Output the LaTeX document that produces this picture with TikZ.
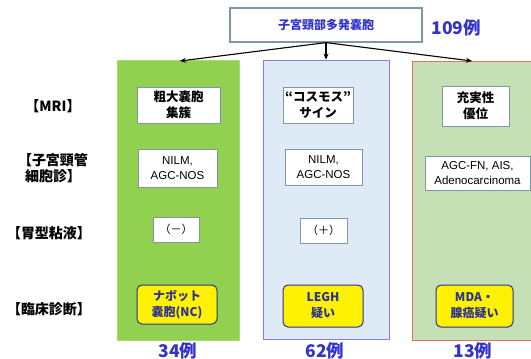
\documentclass[tikz,border=0pt]{standalone}
\usepackage{fontspec}
\newfontfamily\jp{Noto Sans CJK JP}
\newfontfamily\lat{Liberation Sans}
\usetikzlibrary{arrows.meta}
\definecolor{colgreen}{HTML}{92D050}
\definecolor{colgreenb}{HTML}{A8DC70}
\definecolor{colblue}{HTML}{DEEAF6}
\definecolor{colblueb}{HTML}{8080E8}
\definecolor{colpale}{HTML}{C5E0B4}
\definecolor{colred}{HTML}{E07060}
\definecolor{txtblue}{HTML}{3333CC}
\definecolor{navy}{HTML}{2E3192}
\definecolor{boxedge}{HTML}{7F98A8}
\tikzset{
  column/.style={draw, line width=0.8pt, inner sep=0pt},
  wbox/.style={draw=boxedge, fill=white, line width=0.8pt, align=center, font=\jp\bfseries\fontsize{12.5}{16}\selectfont, inner sep=0pt},
  lbox/.style={wbox, font=\lat\fontsize{11.5}{15}\selectfont},
  ybox/.style={draw=navy, fill=yellow, line width=1pt, rounded corners=5pt, align=center, text=navy, font=\jp\bfseries\fontsize{12}{16}\selectfont, inner sep=0pt},
  rowlabel/.style={align=center, font=\jp\bfseries\fontsize{14}{16}\selectfont},
  count/.style={text=txtblue, font=\jp\bfseries\fontsize{17.5}{20}\selectfont},
  arr/.style={-{Stealth[length=6pt,width=5pt]}, line width=1.1pt}
}
\begin{document}
\begin{tikzpicture}[x=1pt,y=-1pt]
\useasboundingbox (0,0) rectangle (531,359);
% columns
\node[column, fill=colgreen, draw=colgreenb, minimum width=122pt, minimum height=280pt] (c1) at (178,200) {};
\node[column, fill=colblue, draw=colblueb, minimum width=126pt, minimum height=279pt] (c2) at (326,199.5) {};
\node[column, fill=colpale, draw=colred, minimum width=122pt, minimum height=279pt] (c3) at (473,200.5) {};
% top box
\node[draw=boxedge, fill=white, line width=1.2pt, minimum width=192pt, minimum height=34pt, text=txtblue, font=\jp\bfseries\fontsize{12}{14}\selectfont] (top) at (326,25) {子宮頸部多発嚢胞};
\node[count, anchor=west] (n0) at (428,28) {109例};
% arrows
\draw[arr] (top.south) -- (180,61);
\draw[arr] (top.south) -- (c2.north);
\draw[arr] (top.south) -- (472,61);
% row labels
\node[rowlabel] (l1) at (53,106) {【MRI】};
\node[rowlabel] (l2) at (53,168) {【子宮頸管\\細胞診】};
\node[rowlabel] (l3) at (49,233) {【胃型粘液】};
\node[rowlabel] (l4) at (49,309) {【臨床診断】};
% MRI row
\node[wbox, minimum width=83pt, minimum height=36pt] (a1) at (178.5,105) {粗大嚢胞\\集簇};
\node[wbox, minimum width=70pt, minimum height=36pt] (a2) at (318,105) {“コスモス”\\サイン};
\node[wbox, minimum width=67pt, minimum height=40pt] (a3) at (475.5,106) {充実性\\優位};
% cytology row
\node[lbox, minimum width=79pt, minimum height=38pt] (b1) at (177.5,168) {NILM,\\AGC-NOS};
\node[lbox, minimum width=77pt, minimum height=36pt] (b2) at (323.5,167) {NILM,\\AGC-NOS};
\node[lbox, minimum width=105pt, minimum height=34pt] (b3) at (477.5,173) {AGC-FN, AIS,\\Adenocarcinoma};
% mucin row
\node[wbox, font=\jp\fontsize{11}{13}\selectfont, minimum width=46pt, minimum height=25pt] (m1) at (176,229.5) {（－）};
\node[wbox, font=\jp\fontsize{11}{13}\selectfont, minimum width=47pt, minimum height=25pt] (m2) at (323.5,230.5) {（＋）};
% clinical row
\node[ybox, minimum width=80pt, minimum height=39pt] (d1) at (177,304.5) {ナボット\\嚢胞(NC)};
\node[ybox, minimum width=80pt, minimum height=42pt] (d2) at (323,306) {LEGH\\疑い};
\node[ybox, minimum width=77pt, minimum height=42pt] (d3) at (474.5,306) {MDA・\\腺癌疑い};
% counts
\node[count] (n1) at (178,351) {34例};
\node[count] (n2) at (325,351) {62例};
\node[count] (n3) at (473,351) {13例};
\end{tikzpicture}
\end{document}
